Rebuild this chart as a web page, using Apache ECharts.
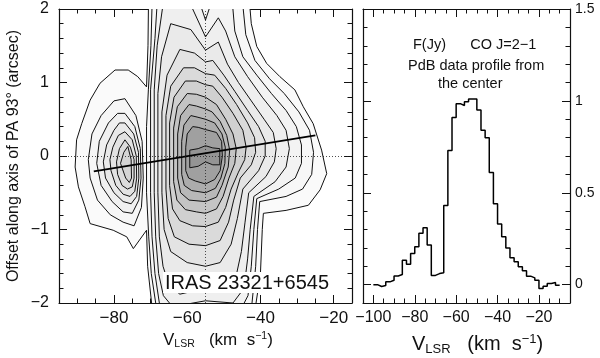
<!DOCTYPE html>
<html>
<head>
<meta charset="utf-8">
<script src="https://cdn.jsdelivr.net/npm/echarts@6/dist/echarts.min.js"></script>
<style>
  html, body { margin: 0; padding: 0; background: #fff; }
  #chart { width: 600px; height: 358px; }
</style>
</head>
<body>
<div id="chart"></div>
<script>
// ---- tick labels ----
var velTicksLeft = [-80, -60, -40, -20];
var offTicks = [-2, -1, 0, 1, 2];
var velTicksRight = [-100, -80, -60, -40, -20];
var fluxTicks = [0, 0.5, 1, 1.5];

// ---- CO J=2-1 spectrum (channel edges, km/s ; flux, Jy) ----
var specEdges = [-100, -98, -96, -94, -92, -90, -88, -86, -84, -82, -80, -78, -76, -74, -72, -70,
  -68, -66, -64, -62, -60, -58, -56, -54, -52, -50, -48, -46, -44, -42, -40, -38, -36, -34, -32,
  -30, -28, -26, -24, -22, -20, -18, -16, -14, -12, -10];
var specFlux = [0.00, -0.01, -0.005, 0.015, 0.024, 0.047, 0.055, 0.133, 0.111, 0.17, 0.206, 0.279,
  0.31, 0.215, 0.05, 0.06, 0.065, 0.43, 0.73, 0.91, 0.985, 0.975, 0.995, 1.01, 1.01, 0.95, 0.84,
  0.80, 0.61, 0.44, 0.33, 0.26, 0.20, 0.146, 0.124, 0.097, 0.075, 0.046, 0.037, 0.024, -0.021,
  -0.009, 0.006, 0.011, -0.003];

// ---- velocity gradient line (v, offset) ----
var gradLine = [[-85.5, -0.21], [-25, 0.28]];

// ---- contours of the position-velocity diagram, [v, offset] ----
var contourMain = [
  [[-70.5,2.4],[-70.7,1.5],[-71.1,0.94],[-73.5,1.08],[-76.1,1.17],[-79.7,1.17],[-83.8,0.99],[-86.5,0.76],[-88.8,0.44],[-90.2,0.22],[-90.6,-0.15],[-89.7,-0.42],[-87.9,-0.69],[-86.5,-0.92],[-80.2,-1.01],[-76.5,-1.1],[-74.7,-1.26],[-71.1,-1.01],[-70.8,-1.5],[-69.5,-2.1],[-67.5,-2.5],[-55,-2.6],[-43,-2.5],[-41.2,-2.0],[-40.0,-1.6],[-39.5,-1.0],[-39.2,-0.78],[-33,-0.74],[-26.9,-0.67],[-23.7,-0.46],[-21.9,-0.24],[-23.3,0.08],[-25.6,0.44],[-28.3,0.67],[-30.6,0.9],[-34.7,1.08],[-38.3,1.26],[-41.0,1.49],[-42.5,1.8],[-43.5,2.4],[-55,2.6]],
  [[-69.4,2.4],[-69.9,1.5],[-70.6,0.9],[-71.1,0.4],[-71.1,-0.5],[-70.5,-1.1],[-69.8,-1.6],[-68.6,-2.0],[-66.5,-2.4],[-55,-2.35],[-44.5,-2.3],[-42.3,-2.0],[-41.3,-1.5],[-40.8,-1.0],[-40.2,-0.62],[-33,-0.55],[-28.5,-0.45],[-26,-0.25],[-25.5,0.05],[-26.6,0.35],[-29.5,0.6],[-33.5,0.85],[-37.5,1.05],[-41.5,1.3],[-44,1.65],[-45.5,2.4],[-55,2.5]],
  [[-67.8,2.4],[-68.8,1.6],[-70.0,0.9],[-70.0,-0.5],[-69.6,-1.1],[-68.8,-1.6],[-67.6,-2.0],[-65.5,-2.25],[-55,-2.15],[-46,-2.15],[-43.4,-1.9],[-42.5,-1.5],[-41.8,-1.0],[-41,-0.58],[-35,-0.45],[-30.5,-0.3],[-28.8,-0.1],[-28.8,0.15],[-30.2,0.4],[-33,0.62],[-37,0.85],[-41,1.1],[-44.8,1.35],[-47,1.7],[-48.2,2.4],[-52,2.3],[-55,1.85],[-58,2.3],[-62,2.4]],
  [[-66.2,2.2],[-68.2,1.5],[-69.0,0.9],[-69.0,-0.5],[-68.6,-1.1],[-67.8,-1.6],[-66.5,-1.9],[-64,-2.05],[-55,-1.97],[-47.5,-2.0],[-44.5,-1.8],[-43.5,-1.4],[-42.8,-1.0],[-41.8,-0.55],[-36,-0.35],[-33,-0.15],[-32.1,0.1],[-33,0.35],[-35.5,0.55],[-39.5,0.8],[-43.5,1.08],[-47,1.35],[-49.5,1.7],[-51.5,1.88],[-55,1.62],[-58.5,2.0],[-62,2.2]],
  [[-64.5,1.8],[-67.0,1.35],[-68.0,0.85],[-68.0,-0.5],[-67.6,-1.1],[-66.6,-1.5],[-65,-1.75],[-62,-1.88],[-55,-1.8],[-49.5,-1.78],[-46.5,-1.6],[-45.2,-1.3],[-44.2,-0.9],[-43.2,-0.5],[-38.5,-0.28],[-36.2,-0.08],[-35.7,0.1],[-36.5,0.32],[-39,0.5],[-42.5,0.75],[-46,1.0],[-49,1.25],[-51.5,1.55],[-55,1.44],[-59,1.72]],
  [[-62,1.45],[-65.5,1.1],[-66.9,0.6],[-66.9,-0.5],[-66.3,-1.0],[-64.5,-1.3],[-60,-1.45],[-55,-1.5],[-51,-1.45],[-48,-1.2],[-46.3,-0.85],[-44.8,-0.45],[-40.5,-0.2],[-38.7,0.0],[-38.7,0.2],[-40.5,0.4],[-43.5,0.62],[-47,0.88],[-50,1.1],[-53,1.3],[-55,1.28],[-58,1.4]],
  [[-61,1.2],[-64.5,0.95],[-65.8,0.55],[-65.8,-0.45],[-65.2,-0.85],[-63.5,-1.1],[-59.5,-1.2],[-55,-1.22],[-51,-1.15],[-48.7,-0.9],[-47.3,-0.6],[-45.5,-0.3],[-42.5,-0.12],[-41.3,0.05],[-41.6,0.25],[-43.5,0.45],[-46.5,0.7],[-49.5,0.92],[-52.5,1.1],[-55,1.12],[-58,1.2]],
  [[-60.5,1.02],[-63.6,0.8],[-64.8,0.45],[-64.8,-0.4],[-64,-0.72],[-62,-0.88],[-58.5,-0.95],[-55,-0.96],[-51.5,-0.9],[-49.5,-0.7],[-48,-0.45],[-46,-0.22],[-44.3,-0.05],[-43.9,0.12],[-44.8,0.35],[-47.5,0.58],[-50.5,0.8],[-53,0.95],[-55,0.97],[-57.5,1.02]],
  [[-60,0.85],[-62.7,0.67],[-63.7,0.38],[-63.7,-0.35],[-62.8,-0.6],[-60.5,-0.73],[-57.5,-0.76],[-55,-0.78],[-52,-0.72],[-50.2,-0.55],[-48.6,-0.3],[-47,-0.1],[-46.6,0.1],[-47.5,0.3],[-49.5,0.5],[-52,0.7],[-55,0.8],[-57.5,0.84]],
  [[-59.5,0.7],[-61.8,0.55],[-62.6,0.3],[-62.6,-0.3],[-61.8,-0.5],[-59.5,-0.6],[-55,-0.62],[-52,-0.56],[-50.5,-0.4],[-48.8,-0.15],[-48.4,0.08],[-49.2,0.28],[-51,0.47],[-53.2,0.6],[-55,0.64],[-57.5,0.68]],
  [[-59,0.55],[-60.9,0.42],[-61.5,0.2],[-61.5,-0.25],[-60.8,-0.4],[-58.8,-0.47],[-55,-0.5],[-52.3,-0.44],[-50.8,-0.3],[-49.7,-0.1],[-49.6,0.12],[-50.5,0.3],[-52.5,0.45],[-55,0.5],[-57.3,0.53]],
  [[-58.5,0.4],[-60,0.3],[-60.4,0.12],[-60.4,-0.2],[-59.6,-0.3],[-57.8,-0.34],[-55,-0.38],[-52.5,-0.32],[-51,-0.2],[-50.4,0.0],[-50.6,0.2],[-52,0.32],[-55,0.36],[-57,0.39]],
  [[-59.3,0.08],[-57,0.1],[-55,0.14],[-53,0.11],[-51.1,0.1],[-51.1,-0.12],[-53,-0.12],[-55,-0.08],[-57,-0.14],[-59.3,-0.16]]
];
var grayMain = [250, 247, 243, 239, 234, 227, 218, 208, 196, 184, 172, 160, 148];

var contourBlob = [
  [[-77,0.78],[-74,0.55],[-72.3,0.2],[-72,-0.3],[-72.5,-0.7],[-74.5,-0.95],[-77.5,-0.9],[-81,-0.8],[-84.5,-0.6],[-86.5,-0.3],[-87,-0.05],[-86,0.3],[-83.5,0.55],[-80,0.75]],
  [[-77,0.58],[-74.3,0.4],[-72.8,0.1],[-72.6,-0.3],[-73.2,-0.6],[-75,-0.78],[-77.5,-0.76],[-80.5,-0.62],[-83.5,-0.4],[-84.7,-0.1],[-84,0.2],[-81.5,0.45],[-79,0.58]],
  [[-77,0.45],[-74.6,0.3],[-73.3,0.05],[-73.2,-0.3],[-73.8,-0.55],[-75.3,-0.65],[-77.5,-0.62],[-80,-0.5],[-82.3,-0.3],[-82.9,-0.08],[-82,0.15],[-80,0.35],[-78.5,0.45]],
  [[-77,0.33],[-75,0.22],[-73.9,0.0],[-73.8,-0.3],[-74.3,-0.48],[-75.6,-0.55],[-77.5,-0.52],[-79.5,-0.4],[-80.8,-0.2],[-81.1,-0.05],[-80.3,0.12],[-78.8,0.28]],
  [[-77,0.22],[-75.5,0.12],[-74.5,-0.05],[-74.5,-0.3],[-75,-0.42],[-76.3,-0.45],[-77.8,-0.4],[-79,-0.25],[-79.3,-0.08],[-78.5,0.1]],
  [[-76.2,0.13],[-75.3,-0.05],[-75.2,-0.3],[-75.8,-0.36],[-76.8,-0.3],[-78.2,-0.1],[-77.3,0.05]]
];
var grayBlob = [246, 240, 233, 226, 219, 212];

var FONT = 'Liberation Sans, Arial, Helvetica, sans-serif';

function steps(a, b, s) {
  var out = [];
  for (var i = 0; a + i * s <= b + 1e-9; i++) out.push(Math.round((a + i * s) * 1000) / 1000);
  return out;
}
function fmt(v) { return v < 0 ? '\u2212' + (-v) : String(v); }

function axisPair(grid, pos, min, max, minorStep, majors, labels, fontSize, margin) {
  var base = {
    type: 'value', gridIndex: grid, position: pos, min: min, max: max,
    splitLine: { show: false }, axisPointer: { show: false }
  };
  var minor = Object.assign({}, base, {
    axisLine: { show: true, onZero: false, lineStyle: { color: '#111', width: 1.2 } },
    axisTick: { show: true, inside: true, length: 4.5, customValues: steps(min, max, minorStep), lineStyle: { color: '#111', width: 1 } },
    axisLabel: { show: false }
  });
  var major = Object.assign({}, base, {
    axisLine: { show: false, onZero: false },
    axisTick: { show: true, inside: true, length: 8, customValues: majors, lineStyle: { color: '#111', width: 1 } },
    axisLabel: labels ? { show: true, customValues: labels, formatter: fmt, fontSize: fontSize, margin: margin, color: '#111', fontFamily: FONT } : { show: false }
  });
  return [minor, major];
}

var xAxes = [].concat(
  axisPair(0, 'bottom', -95, -15, 5, velTicksLeft, velTicksLeft, 17, 7),
  axisPair(0, 'top', -95, -15, 5, velTicksLeft, null),
  axisPair(1, 'bottom', -105, -5, 5, velTicksRight, velTicksRight, 16, 7),
  axisPair(1, 'top', -105, -5, 5, velTicksRight, null)
);
var yAxes = [].concat(
  axisPair(0, 'left', -2, 2, 0.2, offTicks, offTicks, 16, 10),
  axisPair(0, 'right', -2, 2, 0.2, offTicks, null),
  axisPair(1, 'left', -0.1, 1.5, 0.1, fluxTicks, null),
  axisPair(1, 'right', -0.1, 1.5, 0.1, fluxTicks, fluxTicks, 14, 5)
);

var polys = [];
contourMain.forEach(function (p, i) { polys.push({ pts: p, g: grayMain[i] }); });
contourBlob.forEach(function (p, i) { polys.push({ pts: p, g: grayBlob[i] }); });

var chart = echarts.init(document.getElementById('chart'), null, { renderer: 'canvas' });

var option = {
  animation: false,
  backgroundColor: '#fff',
  grid: [
    { left: 59, top: 9, width: 293, height: 294 },
    { left: 363, top: 9, width: 207, height: 294 }
  ],
  xAxis: xAxes,
  yAxis: yAxes,
  series: [
    {
      // contour levels, filled in grey
      type: 'custom',
      xAxisIndex: 0, yAxisIndex: 0,
      clip: true, z: 1, silent: true,
      data: polys.map(function (p, i) { return [i]; }),
      renderItem: function (params, api) {
        var p = polys[api.value(0)];
        var pts = p.pts.map(function (q) { return api.coord(q); });
        var c = 'rgb(' + p.g + ',' + p.g + ',' + p.g + ')';
        return { type: 'polygon', shape: { points: pts }, style: { fill: c, stroke: '#111', lineWidth: 1 } };
      }
    },
    {
      type: 'line',
      xAxisIndex: 0, yAxisIndex: 0,
      data: gradLine, symbol: 'none', z: 3, silent: true,
      lineStyle: { color: '#000', width: 1.8 },
      markLine: {
        silent: true, symbol: ['none', 'none'], label: { show: false },
        lineStyle: { color: '#222', width: 0.8, type: [1, 2] },
        data: [{ xAxis: -55 }, { yAxis: 0 }]
      }
    },
    {
      type: 'line', step: 'end',
      xAxisIndex: 4, yAxisIndex: 4,
      data: specEdges.map(function (v, i) { return [v, specFlux[Math.min(i, specFlux.length - 1)]]; }),
      symbol: 'none', silent: true,
      lineStyle: { color: '#000', width: 1.5 }
    }
  ],
  graphic: [
    {
      type: 'text', x: 14, y: 156, rotation: Math.PI / 2, z: 10,
      style: { text: 'Offset along axis of PA 93\u00b0 (arcsec)', font: '16px ' + FONT, fill: '#111', align: 'center', verticalAlign: 'middle' }
    },
    {
      type: 'text', x: 163, y: 272, z: 10,
      style: { text: 'IRAS 23321+6545', font: '20px ' + FONT, fill: '#111', backgroundColor: '#fff', padding: [1, 2, 0, 2] }
    },
    {
      type: 'text', x: 163, y: 331, z: 10,
      style: {
        text: '{a|V}{s|LSR}{a|   (km  s}{p|\u22121}{a|)}',
        rich: {
          a: { fontSize: 17, fontFamily: FONT, fill: '#111' },
          s: { fontSize: 10.5, fontFamily: FONT, fill: '#111', padding: [8, 0, 0, 0] },
          p: { fontSize: 10.5, fontFamily: FONT, fill: '#111', padding: [0, 0, 8, 0] }
        }
      }
    },
    {
      type: 'text', x: 412, y: 333, z: 10,
      style: {
        text: '{a|V}{s|LSR}{a|   (km  s}{p|\u22121}{a|)}',
        rich: {
          a: { fontSize: 20, fontFamily: FONT, fill: '#111' },
          s: { fontSize: 13, fontFamily: FONT, fill: '#111', padding: [10, 0, 0, 0] },
          p: { fontSize: 13, fontFamily: FONT, fill: '#111', padding: [0, 0, 10, 0] }
        }
      }
    },
    {
      type: 'text', x: 413, y: 37, z: 10,
      style: { text: 'F(Jy)      CO J=2\u22121', font: '14.5px ' + FONT, fill: '#111' }
    },
    {
      type: 'text', x: 408, y: 58, z: 10,
      style: { text: 'PdB data profile from', font: '14.5px ' + FONT, fill: '#111' }
    },
    {
      type: 'text', x: 438, y: 76, z: 10,
      style: { text: 'the center', font: '14.5px ' + FONT, fill: '#111' }
    }
  ]
};
chart.setOption(option);
</script>
</body>
</html>
